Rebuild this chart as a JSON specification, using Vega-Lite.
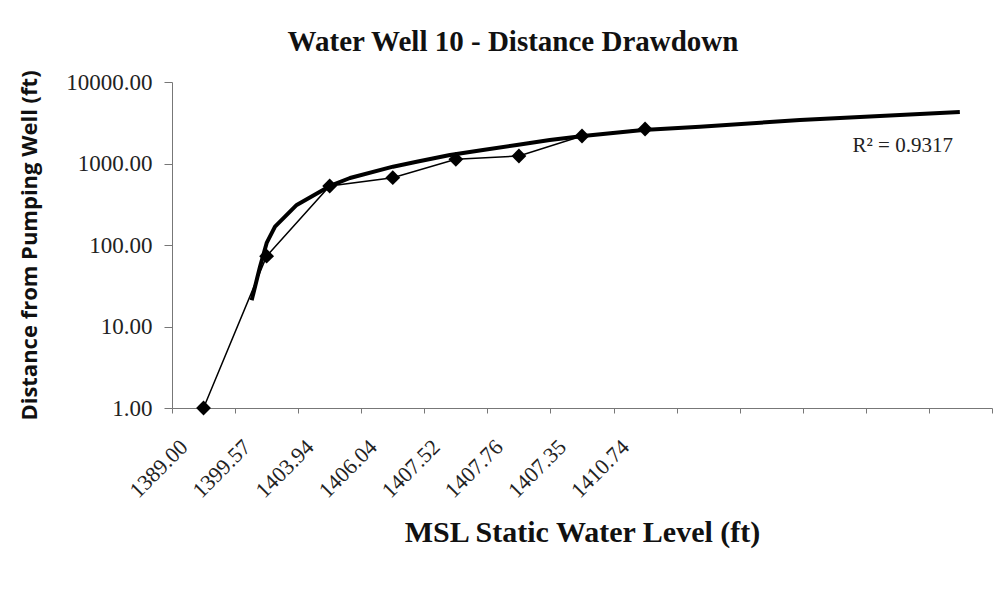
{
  "$schema": "https://vega.github.io/schema/vega-lite/v6.json",
  "width": 820,
  "height": 326,
  "autosize": {"type": "none"},
  "padding": {"left": 172, "top": 82, "right": 13, "bottom": 185},
  "background": "white",
  "config": {
    "view": {"stroke": null},
    "font": "Liberation Serif",
    "axisY": {
      "grid": false,
      "tickSize": 8, "labelPadding": 12,
      "domainColor": "#777777", "tickColor": "#777777",
      "labelFont": "Liberation Serif", "labelFontSize": 23, "labelColor": "#222222",
      "titleFont": "Open Sans", "titleFontSize": 22, "titleFontWeight": "bold",
      "titleColor": "#111111", "titlePadding": 24
    }
  },
  "title": {
    "text": "Water Well 10 - Distance Drawdown",
    "font": "Liberation Serif",
    "fontSize": 29,
    "fontWeight": "bold",
    "color": "#111111",
    "anchor": "middle",
    "baseline": "alphabetic",
    "dx": -69,
    "offset": -10
  },
  "datasets": {
    "points": [
      {"idx": 1, "level": "1389.00", "distance": 1},
      {"idx": 2, "level": "1399.57", "distance": 73},
      {"idx": 3, "level": "1403.94", "distance": 530},
      {"idx": 4, "level": "1406.04", "distance": 670},
      {"idx": 5, "level": "1407.52", "distance": 1125},
      {"idx": 6, "level": "1407.76", "distance": 1236},
      {"idx": 7, "level": "1407.35", "distance": 2175},
      {"idx": 8, "level": "1410.74", "distance": 2650}
    ],
    "trend": [
      {"idx": 1.763, "distance": 21},
      {"idx": 1.895, "distance": 54},
      {"idx": 2.001, "distance": 106},
      {"idx": 2.133, "distance": 168},
      {"idx": 2.477, "distance": 310},
      {"idx": 3.005, "distance": 530},
      {"idx": 3.322, "distance": 664},
      {"idx": 4.004, "distance": 914},
      {"idx": 4.379, "distance": 1052},
      {"idx": 4.907, "distance": 1271},
      {"idx": 5.43, "distance": 1465},
      {"idx": 5.965, "distance": 1687},
      {"idx": 6.49, "distance": 1942},
      {"idx": 7.016, "distance": 2174},
      {"idx": 7.967, "distance": 2576},
      {"idx": 8.87, "distance": 2830},
      {"idx": 10.456, "distance": 3419},
      {"idx": 12.04, "distance": 3937},
      {"idx": 12.99, "distance": 4285}
    ],
    "note": [
      {"idx": 12.88, "distance": 1384, "label": "R² = 0.9317"}
    ]
  },
  "resolve": {"scale": {"x": "shared", "y": "shared"}, "axis": {"x": "independent"}},
  "layer": [
    {
      "data": {"name": "trend"},
      "mark": {"type": "line", "color": "#000000", "strokeWidth": 4, "strokeJoin": "round"},
      "encoding": {
        "x": {
          "field": "idx", "type": "quantitative",
          "scale": {"domain": [0.5, 13.5], "nice": false, "zero": false},
          "axis": {
            "orient": "bottom",
            "values": [0.5, 1.5, 2.5, 3.5, 4.5, 5.5, 6.5, 7.5, 8.5, 9.5, 10.5, 11.5, 12.5, 13.5],
            "labels": false, "grid": false, "ticks": true, "tickSize": 5,
            "domain": true, "domainColor": "#777777", "tickColor": "#777777",
            "domainWidth": 1, "tickWidth": 1, "title": null
          }
        },
        "y": {
          "field": "distance", "type": "quantitative",
          "scale": {"type": "log", "domain": [1, 10000], "nice": false},
          "axis": {"values": [1, 10, 100, 1000, 10000], "format": ".2f", "title": "Distance from Pumping Well (ft)"}
        }
      }
    },
    {
      "data": {"name": "points"},
      "mark": {"type": "line", "color": "#000000", "strokeWidth": 1.5},
      "encoding": {
        "x": {
          "field": "idx", "type": "quantitative",
          "axis": {
            "orient": "bottom",
            "values": [1, 2, 3, 4, 5, 6, 7, 8],
            "labelExpr": "['1389.00','1399.57','1403.94','1406.04','1407.52','1407.76','1407.35','1410.74'][round(datum.value) - 1]",
            "domain": false, "ticks": false, "grid": false,
            "labelAngle": -45, "labelAlign": "right", "labelBaseline": "middle",
            "labelPadding": 35, "labelOffset": -20,
            "labelFont": "Liberation Serif", "labelFontSize": 22, "labelColor": "#222222",
            "labelOverlap": false, "labelBound": false, "labelFlush": false,
            "title": "MSL Static Water Level (ft)",
            "titleFont": "Liberation Serif", "titleFontSize": 30, "titleFontWeight": "bold",
            "titleColor": "#111111", "titlePadding": 16
          }
        },
        "y": {
          "field": "distance", "type": "quantitative",
          "axis": {"values": [1, 10, 100, 1000, 10000], "format": ".2f", "title": "Distance from Pumping Well (ft)"}
        }
      }
    },
    {
      "data": {"name": "points"},
      "mark": {"type": "point", "shape": "diamond", "filled": true, "color": "#000000", "opacity": 1, "size": 220},
      "encoding": {
        "x": {"field": "idx", "type": "quantitative", "axis": null},
        "y": {
          "field": "distance", "type": "quantitative",
          "axis": {"values": [1, 10, 100, 1000, 10000], "format": ".2f", "title": "Distance from Pumping Well (ft)"}
        }
      }
    },
    {
      "data": {"name": "note"},
      "mark": {"type": "text", "align": "right", "baseline": "alphabetic", "font": "Liberation Serif", "fontSize": 21, "color": "#222222"},
      "encoding": {
        "x": {"field": "idx", "type": "quantitative", "axis": null},
        "y": {
          "field": "distance", "type": "quantitative",
          "axis": {"values": [1, 10, 100, 1000, 10000], "format": ".2f", "title": "Distance from Pumping Well (ft)"}
        },
        "text": {"field": "label"}
      }
    }
  ]
}
